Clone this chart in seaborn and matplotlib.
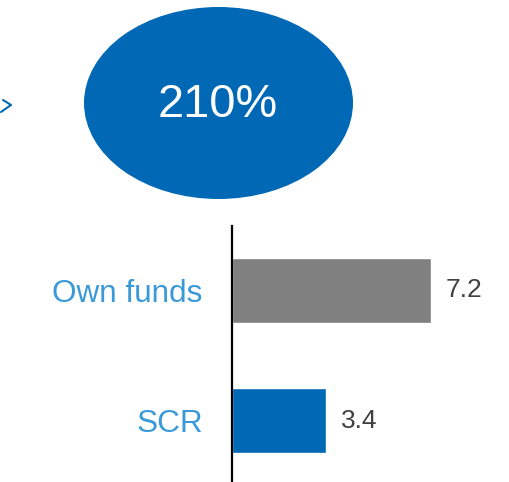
import matplotlib
matplotlib.use("Agg")
import matplotlib.pyplot as plt
import seaborn as sns
from matplotlib.patches import Ellipse
from matplotlib.lines import Line2D

# chart data
categories = ["Own funds", "SCR"]
values = [7.2, 3.4]
bar_colors = ["#808080", "#0068B4"]
ratio_text = "210%"

sns.set_style("white")
plt.rcParams['font.family'] = ['Liberation Sans', 'DejaVu Sans']

W, H = 509, 482
fig = plt.figure(figsize=(W / 100, H / 100), dpi=100)

# bar panel
ax = fig.add_axes([232 / W, 0, (W - 232) / W, (H - 226) / H])
sns.barplot(x=values, y=categories, hue=categories, palette=bar_colors,
            legend=False, width=0.5, orient="h", ax=ax, saturation=1)
ax.set_xlim(0, (W - 232) / 27.6)
ax.set_ylim(1.473, -0.496)
ax.set_xlabel("")
ax.set_ylabel("")
ax.set_xticks([])
for side in ["top", "right", "bottom"]:
    ax.spines[side].set_visible(False)
ax.spines["left"].set_color("black")
ax.spines["left"].set_linewidth(1.6)
ax.tick_params(axis="y", length=0, pad=21, labelsize=22.7, labelcolor="#3A9AD9")
for container in ax.containers:
    ax.bar_label(container, fmt="%.1f", padding=11, fontsize=19, color="#404040")

# ratio bubble
fig.add_artist(Ellipse((218.5 / W, 1 - 103 / H), 269 / W, 192 / H,
                       transform=fig.transFigure, facecolor="#0068B4", edgecolor="none"))
fig.text(218 / W, 1 - 105 / H, ratio_text, ha="center", va="center",
         fontsize=33.8, color="white")

# cut-off arrow fragment at the left edge
fig.add_artist(Line2D([3 / W, 11 / W, 1 / W], [1 - 100 / H, 1 - 105 / H, 1 - 112 / H],
                      transform=fig.transFigure, color="#0068B4", linewidth=1.5))

fig.savefig("out.png", dpi=100)
